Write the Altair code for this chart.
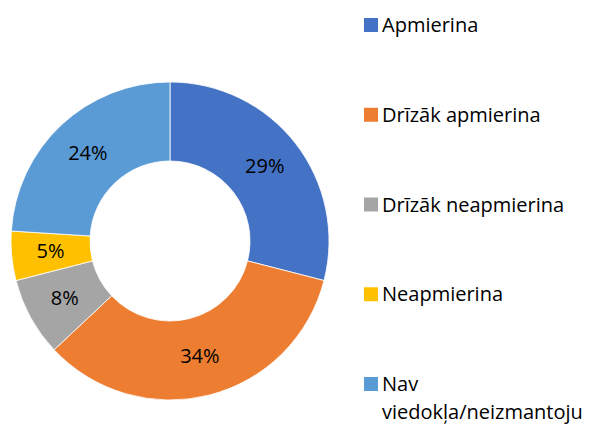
import altair as alt
import pandas as pd

categories = ["Apmierina", "Drīzāk apmierina", "Drīzāk neapmierina", "Neapmierina", "Nav viedokļa/neizmantoju"]
legend_labels = ["Apmierina", "Drīzāk apmierina", "Drīzāk neapmierina", "Neapmierina", "Nav\nviedokļa/neizmantoju"]
values = [29, 34, 8, 5, 24]
colors = ["#4472C4", "#ED7D31", "#A5A5A5", "#FFC000", "#5B9BD5"]

df = pd.DataFrame({
    "cat": categories,
    "label": legend_labels,
    "value": values,
    "order": list(range(len(categories))),
    "pct": [f"{v}%" for v in values],
})

FONT = "Open Sans"
CX, CY = 162, 233

color = alt.Color("cat:N", scale=alt.Scale(domain=categories, range=colors), legend=None)
base = alt.Chart(df)

arc = base.mark_arc(outerRadius=159, innerRadius=80, stroke="white", strokeWidth=0.8).encode(
    theta=alt.Theta("value:Q", stack=True),
    order=alt.Order("order:Q"),
    color=color,
    x=alt.value(CX), y=alt.value(CY),
)

pct = base.mark_text(font=FONT, fontSize=20, color="#000000", radius=120).encode(
    theta=alt.Theta("value:Q", stack=True),
    order=alt.Order("order:Q"),
    text="pct:N",
    x=alt.value(CX), y=alt.value(CY),
)

ys = alt.Y("cat:N", scale=alt.Scale(domain=categories, range=[17, 376], padding=0), axis=None)

sq = base.mark_point(shape="square", filled=True, size=196, opacity=1).encode(
    y=ys, x=alt.value(363), color=color,
)

lab = base.mark_text(font=FONT, fontSize=20, color="#000000", align="left", baseline="alphabetic",
                     dy=7, lineBreak="\n", lineHeight=28).encode(
    y=ys, x=alt.value(374), text="label:N",
)

chart = alt.layer(arc, pct, sq, lab).properties(
    width=581, height=416, autosize=alt.AutoSizeParams(type="none"), padding=0
).configure_view(stroke=None)

chart.save("out.html", embed_options={"renderer": "svg", "actions": False})
